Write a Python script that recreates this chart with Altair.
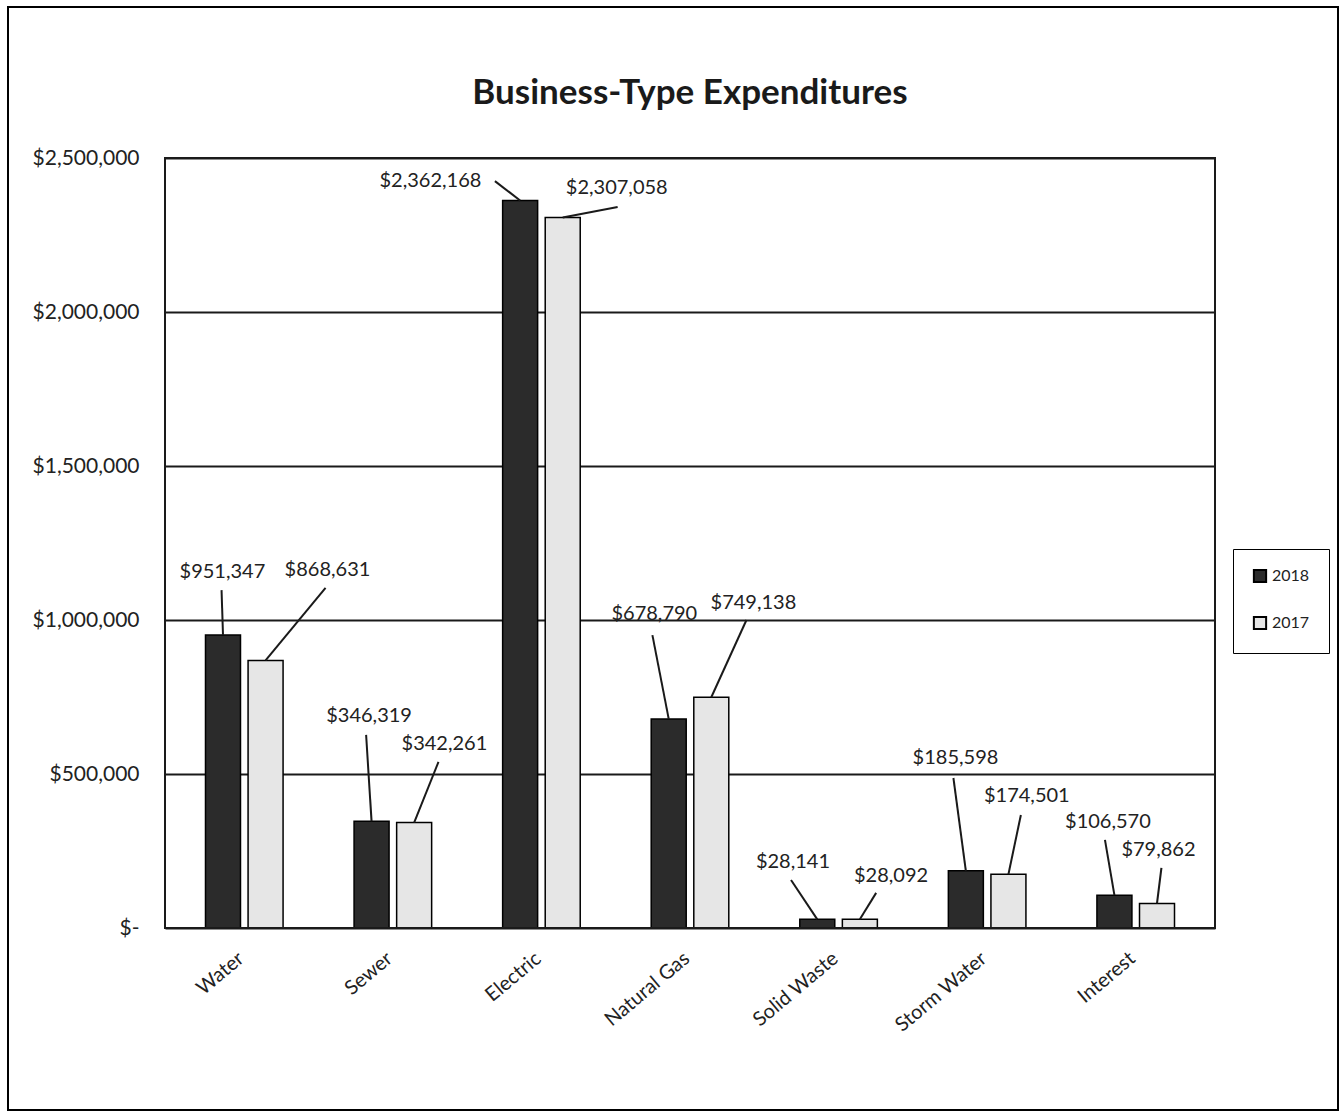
import altair as alt
import pandas as pd

chart_title = "Business-Type Expenditures"
categories = ["Water", "Sewer", "Electric", "Natural Gas", "Solid Waste", "Storm Water", "Interest"]
years = ["2018", "2017"]
values_2018 = [951347, 346319, 2362168, 678790, 28141, 185598, 106570]
values_2017 = [868631, 342261, 2307058, 749138, 28092, 174501, 79862]

# manually placed data-label positions (in category units / dollars), like the moved Excel labels
label_x_2018 = [-0.147, 0.84, 1.253, 2.76, 3.693, 4.787, 5.813]
label_y_2018 = [1156000, 688000, 2425000, 1019000, 214000, 552000, 344000]
label_x_2017 = [0.56, 1.347, 2.507, 3.427, 4.353, 5.267, 6.153]
label_y_2017 = [1162000, 597000, 2403000, 1055000, 169000, 429000, 253000]
# leader line ends near each label
lead_x_2018 = [-0.153, 0.82, 1.687, 2.747, 3.68, 4.773, 5.793]
lead_y_2018 = [1097000, 627000, 2425000, 951000, 156000, 487000, 286000]
lead_x_2017 = [0.547, 1.307, 2.513, 3.38, 4.253, 5.227, 6.173]
lead_y_2017 = [1104000, 539000, 2341000, 1000000, 114000, 367000, 195000]

bar_shift = 0.1433

rows = []
for i, c in enumerate(categories):
    for yr, vals, lx, ly, dx, dy, sgn in [
        ("2018", values_2018, label_x_2018, label_y_2018, lead_x_2018, lead_y_2018, -1),
        ("2017", values_2017, label_x_2017, label_y_2017, lead_x_2017, lead_y_2017, 1),
    ]:
        rows.append({
            "category": c, "year": yr, "pos": i + sgn * bar_shift, "value": vals[i],
            "label": f"${vals[i]:,}", "label_x": lx[i], "label_y": ly[i],
            "lead_x": dx[i], "lead_y": dy[i],
        })
df = pd.DataFrame(rows)

FONT = "Lato"
names_js = "[" + ",".join(f"'{c}'" for c in categories) + "]"

xscale = alt.Scale(domain=[-0.5, len(categories) - 0.5], nice=False, zero=False)
yscale = alt.Scale(domain=[0, 2500000], nice=False)

x_axis = alt.Axis(values=list(range(len(categories))), labelExpr=f"{names_js}[datum.value]",
                  labelAngle=-40, labelFontSize=20, labelFont=FONT, labelColor="#222",
                  ticks=False, domain=False, grid=False, title=None, labelPadding=20,
                  labelOffset=-10)
y_axis = alt.Axis(values=[0, 500000, 1000000, 1500000, 2000000, 2500000],
                  labelExpr="datum.value == 0 ? '$-' : '$' + format(datum.value, ',')",
                  labelFontSize=21, labelFont=FONT, labelColor="#222", ticks=False, domain=False,
                  grid=True, gridColor="#1a1a1a", gridWidth=2, title=None, labelPadding=26)

base = alt.Chart(df)

bars = base.mark_bar(size=35, stroke="black", strokeWidth=1.5).encode(
    x=alt.X("pos:Q", scale=xscale, axis=x_axis),
    y=alt.Y("value:Q", scale=yscale, axis=y_axis),
    color=alt.Color("year:N", scale=alt.Scale(domain=years, range=["#2b2b2b", "#e6e6e6"]),
                    legend=alt.Legend(title=None, orient="none", legendX=1068, legendY=391,
                                      symbolType="square", symbolSize=150, symbolStrokeColor="black",
                                      symbolStrokeWidth=2, labelFontSize=16, labelFont=FONT,
                                      labelColor="#222", rowPadding=25, padding=19,
                                      strokeColor="black", fillColor="white")),
)

leaders = base.mark_rule(color="#1a1a1a", strokeWidth=2).encode(
    x="pos:Q", y="value:Q", x2="lead_x:Q", y2="lead_y:Q",
)

labels = base.mark_text(fontSize=20, font=FONT, color="#222", baseline="middle", align="center").encode(
    x="label_x:Q", y="label_y:Q", text="label:N",
)

one = pd.DataFrame({"a": [0]})
frame = alt.Chart(one).mark_rect(fill=None, stroke="black", strokeWidth=2).encode(
    x=alt.value(-157), x2=alt.value(1173), y=alt.value(-151), y2=alt.value(952),
)
plot_border = alt.Chart(one).mark_rect(fill=None, stroke="#1a1a1a", strokeWidth=2).encode(
    x=alt.value(0), x2=alt.value(1050), y=alt.value(0), y2=alt.value(770),
)
title = alt.Chart(one).mark_text(fontSize=35, font=FONT, fontWeight="bold", color="#1a1a1a",
                                 align="center", baseline="alphabetic").encode(
    x=alt.value(525), y=alt.value(-54), text=alt.value(chart_title),
)

chart = alt.layer(frame, bars, leaders, labels, plot_border, title).properties(
    width=1050, height=770,
    autosize=alt.AutoSizeParams(type="none"),
    padding={"left": 165, "top": 158, "right": 125, "bottom": 186},
    background="white",
).configure_view(stroke=None)

chart.save("out.html", embed_options={"renderer": "svg", "actions": False})
